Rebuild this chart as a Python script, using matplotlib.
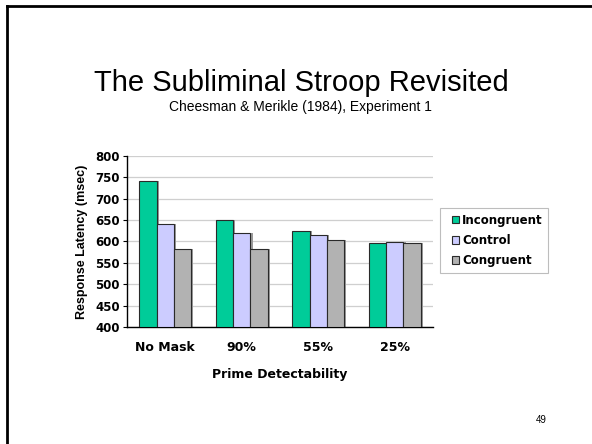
import matplotlib
matplotlib.use("Agg")
import matplotlib.pyplot as plt
import numpy as np
from matplotlib.lines import Line2D
from matplotlib.patches import Rectangle

plt.rcParams['font.family'] = ['Liberation Sans', 'DejaVu Sans']

categories = ['No Mask', '90%', '55%', '25%']
incongruent = [741, 650, 624, 596]
control = [640, 620, 615, 598]
congruent = [583, 583, 603, 596]
series_names = ['Incongruent', 'Control', 'Congruent']
colors = ['#00CC99', '#CCCCFF', '#B2B2B2']

# chart text on the slide is stretched sideways, DejaVu's wider glyphs get close to that
wide = ['DejaVu Sans']

fig = plt.figure(figsize=(5.92, 4.44), dpi=100)
W, H = 592, 444

# slide frame (top + left only)
fig.add_artist(Line2D([7 / W, 1.0], [1 - 6 / H, 1 - 6 / H], color='black', lw=2.0,
                      transform=fig.transFigure))
fig.add_artist(Line2D([7 / W, 7 / W], [0.0, 1 - 6 / H], color='black', lw=2.0,
                      transform=fig.transFigure))

fig.text(301 / W, 1 - 91 / H, 'The Subliminal Stroop Revisited', ha='center', va='baseline',
         fontsize=21)
fig.text(300 / W, 1 - 111 / H, 'Cheesman & Merikle (1984), Experiment 1', ha='center',
         va='baseline', fontsize=10)
fig.text(541 / W, 1 - 420 / H, '49', ha='center', va='center', fontsize=7)

ax = fig.add_axes([127 / W, 1 - 327 / H, 306 / W, 171 / H])

x = np.arange(len(categories))
w = 0.225
handles = []
for i, (vals, c) in enumerate(zip([incongruent, control, congruent], colors)):
    pos = x + (i - 1) * w
    # soft shadow behind each bar
    ax.bar(pos + 0.03, np.array(vals) - 400, w, bottom=400, color='#9a9a9a', zorder=2,
           linewidth=0)
    b = ax.bar(pos, np.array(vals) - 400, w, bottom=400, color=c, edgecolor='#2a2a2a',
               linewidth=0.8, zorder=3, label=series_names[i])
    handles.append(b)

ax.set_xlim(-0.5, 3.5)
ax.set_ylim(400, 800)
ax.set_yticks(range(400, 801, 50))
ax.yaxis.grid(True, color='#cfcfcf', linewidth=0.9, zorder=0)
ax.set_axisbelow(True)
ax.set_xticks(x)
ax.set_xticklabels(categories, fontsize=9, fontweight='bold', family=wide)
for lab in ax.get_yticklabels():
    lab.set_fontweight('bold')
    lab.set_fontsize(8.5)
    lab.set_family(wide)
ax.tick_params(axis='x', length=0, pad=10)
ax.tick_params(axis='y', length=3, width=0.8, pad=2)
ax.spines['top'].set_visible(False)
ax.spines['right'].set_visible(False)
ax.spines['left'].set_linewidth(1.0)
ax.spines['bottom'].set_linewidth(1.0)

ax.set_xlabel('Prime Detectability', fontsize=9, fontweight='bold', family=wide,
              labelpad=10)
ax.set_ylabel('Response Latency (msec)', fontsize=9, fontweight='bold', labelpad=5)

# legend box drawn separately so the padding matches the slide
fig.add_artist(Rectangle((440 / W, 1 - 273 / H), 108 / W, 65 / H, transform=fig.transFigure,
                         facecolor='white', edgecolor='#bdbdbd', linewidth=0.8, zorder=1))
leg = fig.legend(handles=handles, labels=series_names, loc='center left',
                 bbox_to_anchor=(452 / W, 1 - 240.5 / H), frameon=False,
                 prop={'family': wide, 'weight': 'bold', 'size': 8.5},
                 handlelength=0.6, handleheight=0.6, handletextpad=0.25, borderpad=0,
                 labelspacing=0.62, borderaxespad=0)
leg.set_zorder(2)

fig.savefig('out.png', dpi=100)
